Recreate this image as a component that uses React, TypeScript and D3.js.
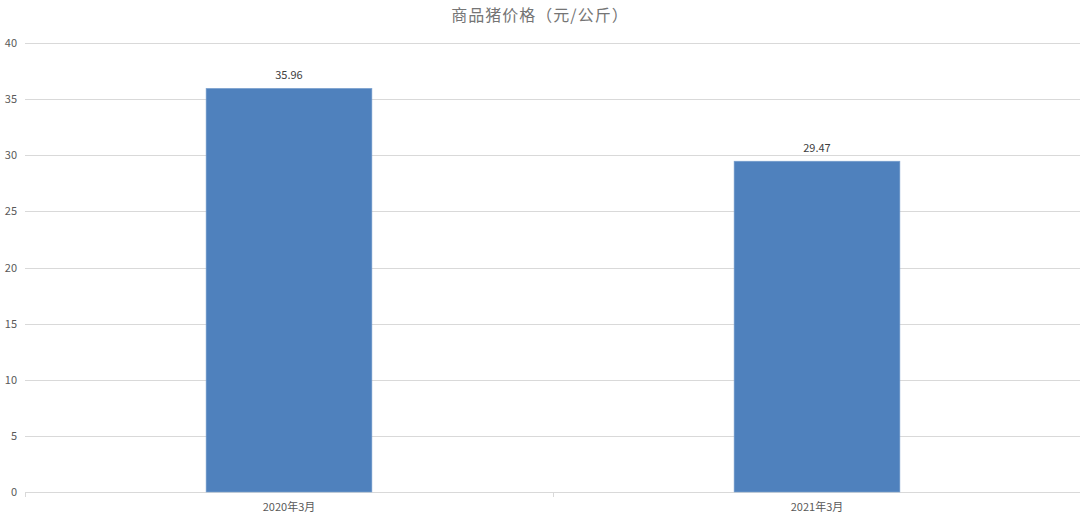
import React, { useEffect, useRef } from 'react';
import * as d3 from 'd3';

const categories = ['2020年3月', '2021年3月'];
const prices = [35.96, 29.47];
const yTicks = [0, 5, 10, 15, 20, 25, 30, 35, 40];
const title = '商品猪价格（元/公斤）';

const WIDTH = 1080;
const HEIGHT = 520;

const App: React.FC = () => {
  const svgRef = useRef<SVGSVGElement>(null);

  useEffect(() => {
    if (!svgRef.current) return;
    const svg = d3.select(svgRef.current);
    svg.selectAll('*').remove();

    const margin = { top: 43, right: 0, bottom: 28, left: 25 };
    const font = '"Microsoft YaHei", "Noto Sans CJK SC", sans-serif';

    const x = d3.scaleBand<string>()
      .domain(categories)
      .range([margin.left, WIDTH - margin.right + 1])
      .paddingInner(0.686)
      .paddingOuter(0.343);
    const band = d3.scaleBand<string>()
      .domain(categories)
      .range([margin.left, WIDTH - margin.right + 1]);
    const y = d3.scaleLinear()
      .domain([0, 40])
      .range([HEIGHT - margin.bottom, margin.top]);

    // Title
    svg.append('text')
      .attr('x', WIDTH / 2)
      .attr('y', 21)
      .attr('text-anchor', 'middle')
      .style('font-family', font)
      .style('font-size', '16px')
      .style('letter-spacing', '1px')
      .style('fill', '#757575')
      .text(title);

    // Gridlines
    svg.append('g')
      .selectAll('line')
      .data(yTicks)
      .join('line')
      .attr('x1', margin.left)
      .attr('x2', WIDTH)
      .attr('y1', d => Math.round(y(d)) + 0.5)
      .attr('y2', d => Math.round(y(d)) + 0.5)
      .attr('stroke', '#d9d9d9')
      .attr('stroke-width', 1);

    // Y labels
    svg.append('g')
      .selectAll('text')
      .data(yTicks)
      .join('text')
      .attr('x', 17)
      .attr('y', d => y(d) + 4)
      .attr('text-anchor', 'end')
      .style('font-family', font)
      .style('font-size', '11px')
      .style('fill', '#595959')
      .text(d => d);

    // Category ticks on x axis
    const tickXs = [margin.left, ...categories.slice(1).map(c => band(c)!)];
    svg.append('g')
      .selectAll('line')
      .data(tickXs)
      .join('line')
      .attr('x1', d => Math.round(d) + 0.5)
      .attr('x2', d => Math.round(d) + 0.5)
      .attr('y1', y(0))
      .attr('y2', y(0) + 5)
      .attr('stroke', '#d9d9d9');

    // Bars
    svg.append('g')
      .selectAll('rect')
      .data(prices)
      .join('rect')
      .attr('x', (_, i) => x(categories[i])!)
      .attr('y', d => y(d))
      .attr('width', x.bandwidth())
      .attr('height', d => y(0) - y(d))
      .attr('fill', '#4f81bd')
      .attr('stroke', '#7ea3d0')
      .attr('stroke-width', 0.6);

    // Value labels
    svg.append('g')
      .selectAll('text')
      .data(prices)
      .join('text')
      .attr('x', (_, i) => x(categories[i])! + x.bandwidth() / 2)
      .attr('y', d => y(d) - 9)
      .attr('text-anchor', 'middle')
      .style('font-family', font)
      .style('font-size', '11px')
      .style('fill', '#404040')
      .text(d => d.toFixed(2));

    // Category labels
    svg.append('g')
      .selectAll('text')
      .data(categories)
      .join('text')
      .attr('x', d => band(d)! + band.bandwidth() / 2)
      .attr('y', y(0) + 19)
      .attr('text-anchor', 'middle')
      .style('font-family', font)
      .style('font-size', '11px')
      .style('fill', '#595959')
      .text(d => d);
  }, []);

  return (
    <div style={{ position: 'absolute', left: 0, top: 0, width: WIDTH, height: HEIGHT, background: '#fff' }}>
      <svg ref={svgRef} width={WIDTH} height={HEIGHT} style={{ display: 'block' }} />
    </div>
  );
};

export default App;
